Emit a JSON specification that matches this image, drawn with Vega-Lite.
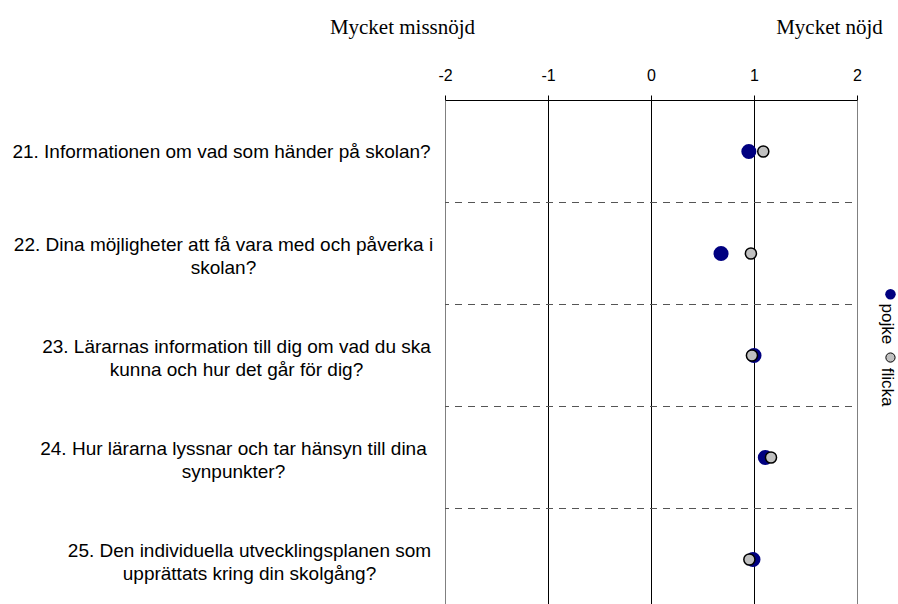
{
  "$schema": "https://vega.github.io/schema/vega-lite/v6.json",
  "width": 412,
  "height": 504,
  "autosize": "none",
  "padding": {"left": 445, "top": 100, "right": 41, "bottom": 0},
  "background": "white",
  "config": {"view": {"stroke": null}, "font": "Liberation Sans"},
  "datasets": {
    "legend": [
      {"cat": "22. Dina möjligheter att få vara med och påverka i|skolan?", "label": "pojke"},
      {"cat": "23. Lärarnas information till dig om vad du ska|kunna och hur det går för dig?", "label": "flicka"}
    ]
  },
  "data": {
    "values": [
      {"cat": "21. Informationen om vad som händer på skolan?", "gender": "pojke", "value": 0.95},
      {"cat": "22. Dina möjligheter att få vara med och påverka i|skolan?", "gender": "pojke", "value": 0.68},
      {"cat": "23. Lärarnas information till dig om vad du ska|kunna och hur det går för dig?", "gender": "pojke", "value": 1.0},
      {"cat": "24. Hur lärarna lyssnar och tar hänsyn till dina|synpunkter?", "gender": "pojke", "value": 1.11},
      {"cat": "25. Den individuella utvecklingsplanen som|upprättats kring din skolgång?", "gender": "pojke", "value": 0.99},
      {"cat": "21. Informationen om vad som händer på skolan?", "gender": "flicka", "value": 1.09},
      {"cat": "22. Dina möjligheter att få vara med och påverka i|skolan?", "gender": "flicka", "value": 0.97},
      {"cat": "23. Lärarnas information till dig om vad du ska|kunna och hur det går för dig?", "gender": "flicka", "value": 0.98},
      {"cat": "24. Hur lärarna lyssnar och tar hänsyn till dina|synpunkter?", "gender": "flicka", "value": 1.165},
      {"cat": "25. Den individuella utvecklingsplanen som|upprättats kring din skolgång?", "gender": "flicka", "value": 0.955}
    ]
  },
  "layer": [
    {
      "transform": [{"filter": "datum.gender == 'pojke' && indexof(datum.cat, '21.') != 0"}],
      "mark": {"type": "rule", "color": "#555555", "strokeWidth": 1, "strokeDash": [7, 6], "strokeDashOffset": 8},
      "encoding": {
        "y": {"field": "cat", "type": "nominal", "sort": null, "bandPosition": 0}
      }
    },
    {
      "transform": [{"filter": "datum.gender == 'pojke'"}],
      "mark": {"type": "circle", "color": "#000080", "opacity": 1, "size": 227},
      "encoding": {
        "x": {
          "field": "value", "type": "quantitative",
          "scale": {"domain": [-2, 2], "nice": false, "zero": false},
          "axis": {
            "orient": "top",
            "values": [-2, -1, 0, 1, 2],
            "labelExpr": "'' + datum.value",
            "labelFlush": false,
            "labelOverlap": false,
            "labelFont": "Liberation Sans",
            "labelFontSize": 16,
            "labelColor": "black",
            "labelBaseline": "alphabetic",
            "labelPadding": 15,
            "domainColor": "black",
            "domainWidth": 1,
            "tickColor": "black",
            "tickSize": 5,
            "tickWidth": 1,
            "grid": true,
            "gridColor": {"condition": {"test": "abs(datum.value) == 2", "value": "#808080"}, "value": "black"},
            "gridWidth": 1,
            "gridOpacity": 1,
            "title": "Mycket nöjd",
            "titleFont": "Liberation Serif",
            "titleFontSize": 21,
            "titleFontWeight": "normal",
            "titleColor": "black",
            "titleX": 384,
            "titleY": -67,
            "titleAlign": "center",
            "titleBaseline": "alphabetic",
            "titleAngle": 0
          }
        },
        "y": {
          "field": "cat", "type": "nominal", "sort": null,
          "scale": {
            "domain": [
              "21. Informationen om vad som händer på skolan?",
              "22. Dina möjligheter att få vara med och påverka i|skolan?",
              "23. Lärarnas information till dig om vad du ska|kunna och hur det går för dig?",
              "24. Hur lärarna lyssnar och tar hänsyn till dina|synpunkter?",
              "25. Den individuella utvecklingsplanen som|upprättats kring din skolgång?"
            ],
            "range": [0.5, 510.5]
          },
          "axis": {
            "domain": false,
            "ticks": false,
            "tickSize": 0,
            "grid": false,
            "labelExpr": "split(datum.value, '|')",
            "labelAlign": "center",
            "labelBaseline": "middle",
            "labelFont": "Liberation Sans",
            "labelFontSize": 19,
            "labelColor": "black",
            "labelLineHeight": 23,
            "labelLimit": 0,
            "labelOverlap": false,
            "labelOffset": {"expr": "indexof(datum.value,'|') >= 0 ? -9 : 0"},
            "labelPadding": {"expr": "indexof(datum.value,'21.')==0 ? 224 : indexof(datum.value,'22.')==0 ? 222 : indexof(datum.value,'23.')==0 ? 209 : indexof(datum.value,'24.')==0 ? 212 : 196"},
            "title": "Mycket missnöjd",
            "titleFont": "Liberation Serif",
            "titleFontSize": 21,
            "titleFontWeight": "normal",
            "titleColor": "black",
            "titleAngle": 0,
            "titleX": -43,
            "titleY": -67,
            "titleAlign": "center",
            "titleBaseline": "alphabetic"
          }
        }
      }
    },
    {
      "transform": [{"filter": "datum.gender == 'flicka'"}],
      "mark": {"type": "circle", "fill": "#C0C0C0", "stroke": "black", "strokeWidth": 1.5, "opacity": 1, "size": 123},
      "encoding": {
        "x": {"field": "value", "type": "quantitative"},
        "y": {"field": "cat", "type": "nominal", "sort": null}
      }
    },
    {
      "data": {"name": "legend"},
      "transform": [{"filter": "datum.label == 'pojke'"}],
      "mark": {"type": "circle", "color": "#000080", "opacity": 1, "size": 110, "clip": false},
      "encoding": {
        "x": {"datum": 2.325, "type": "quantitative"},
        "y": {"field": "cat", "type": "nominal", "sort": null, "bandPosition": 0.9}
      }
    },
    {
      "data": {"name": "legend"},
      "transform": [{"filter": "datum.label == 'flicka'"}],
      "mark": {"type": "circle", "fill": "#C0C0C0", "stroke": "black", "strokeWidth": 1, "opacity": 1, "size": 85, "clip": false},
      "encoding": {
        "x": {"datum": 2.325, "type": "quantitative"},
        "y": {"field": "cat", "type": "nominal", "sort": null, "bandPosition": 0.52}
      }
    },
    {
      "data": {"name": "legend"},
      "transform": [{"filter": "datum.label == 'pojke'"}],
      "mark": {"type": "text", "angle": 90, "align": "left", "baseline": "alphabetic", "fontSize": 17, "font": "Liberation Sans", "color": "black", "clip": false},
      "encoding": {
        "text": {"field": "label"},
        "x": {"datum": 2.243, "type": "quantitative"},
        "y": {"field": "cat", "type": "nominal", "sort": null, "bandPosition": 0.99}
      }
    },
    {
      "data": {"name": "legend"},
      "transform": [{"filter": "datum.label == 'flicka'"}],
      "mark": {"type": "text", "angle": 90, "align": "left", "baseline": "alphabetic", "fontSize": 17, "font": "Liberation Sans", "color": "black", "clip": false},
      "encoding": {
        "text": {"field": "label"},
        "x": {"datum": 2.243, "type": "quantitative"},
        "y": {"field": "cat", "type": "nominal", "sort": null, "bandPosition": 0.62}
      }
    }
  ]
}
